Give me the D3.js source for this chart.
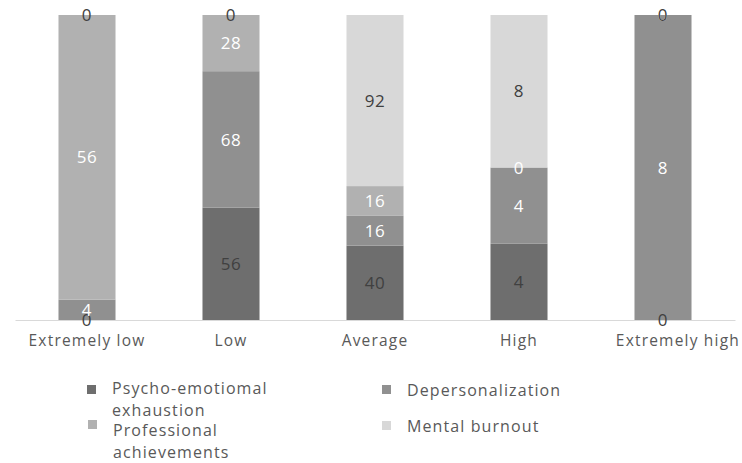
<!DOCTYPE html>
<html>
<head>
<meta charset="utf-8">
<script src="https://cdn.jsdelivr.net/npm/d3@7"></script>
<style>
  html, body { margin: 0; padding: 0; background: #ffffff; }
  svg { display: block; font-family: "Open Sans", "Noto Sans", sans-serif; }
</style>
</head>
<body>
<svg id="chart" width="742" height="463"></svg>
<script>
// ---- data ----
const categories = ["Extremely low", "Low", "Average", "High", "Extremely high"];
const seriesNames = ["Psycho-emotiomal exhaustion", "Depersonalization", "Professional achievements", "Mental burnout"];
const psychoEmotional = [0, 56, 40, 4, 0];
const depersonalization = [4, 68, 16, 4, 8];
const professional = [56, 28, 16, 0, 0];
const mentalBurnout = [0, 0, 92, 8, 0];

const seriesValues = [psychoEmotional, depersonalization, professional, mentalBurnout];
const colors = ["#6e6e6e", "#909090", "#b1b1b1", "#d8d8d8"];
const labelColors = ["#404040", "#ffffff", "#ffffff", "#404040"];

const rows = categories.map((c, i) => {
  const r = { category: c };
  seriesNames.forEach((s, j) => { r[s] = seriesValues[j][i]; });
  return r;
});

const W = 742;
const svg = d3.select("#chart");
const plot = { left: 15, right: 735, top: 15, bottom: 320 };

const x = d3.scaleBand()
  .domain(categories)
  .range([plot.left, plot.right])
  .paddingInner(0.604)
  .paddingOuter(0.302);

const y = d3.scaleLinear().domain([0, 1]).range([plot.bottom, plot.top]);

const stacked = d3.stack().keys(seriesNames).offset(d3.stackOffsetExpand)(rows);

// bars
const layers = svg.append("g").selectAll("g")
  .data(stacked).join("g")
  .attr("fill", (d, i) => colors[i]);

layers.selectAll("rect")
  .data(d => d)
  .join("rect")
  .attr("x", d => x(d.data.category))
  .attr("width", x.bandwidth())
  .attr("y", d => y(d[1]))
  .attr("height", d => y(d[0]) - y(d[1]));

// axis
const axis = svg.append("g")
  .attr("transform", `translate(0,${plot.bottom})`)
  .call(d3.axisBottom(x).tickSize(0).tickPadding(15));
axis.select(".domain").attr("stroke", "#d9d9d9").attr("stroke-width", 1);
axis.selectAll("text")
  .attr("fill", "#595959")
  .style("font-size", "15.5px")
  .style("letter-spacing", "1.2px")
  .style("font-family", "'Open Sans', sans-serif");
// the last label sits flush with the right edge, as in the original chart
axis.selectAll(".tick").each(function(d) {
  const t = d3.select(this).select("text");
  const len = t.node().getComputedTextLength();
  const cx = x(d) + x.bandwidth() / 2;
  const right = cx + len / 2;
  if (right > W - 25) t.attr("x", (W - 2) - right);
});

// data labels
const labels = svg.append("g");
stacked.forEach((layer, i) => {
  labels.selectAll(null)
    .data(layer)
    .join("text")
    .attr("x", d => x(d.data.category) + x.bandwidth() / 2)
    .attr("y", d => (y(d[0]) + y(d[1])) / 2)
    .attr("dy", "0.36em")
    .attr("text-anchor", "middle")
    .attr("fill", labelColors[i])
    .style("font-size", "17px")
    .style("letter-spacing", "0.6px")
    .text(d => d.data[layer.key]);
});

// legend
const legendItems = [
  { idx: 0, sx: 87, sy: 385, lines: ["Psycho-emotiomal", "exhaustion"], ty: [394, 416] },
  { idx: 2, sx: 88, sy: 420, lines: ["Professional", "achievements"], ty: [436, 458] },
  { idx: 1, sx: 382, sy: 385, lines: ["Depersonalization"], ty: [396] },
  { idx: 3, sx: 382, sy: 421, lines: ["Mental burnout"], ty: [432] }
];
const legend = svg.append("g");
legendItems.forEach(it => {
  legend.append("rect")
    .attr("x", it.sx).attr("y", it.sy)
    .attr("width", 9).attr("height", 9)
    .attr("fill", colors[it.idx]);
  it.lines.forEach((ln, k) => {
    legend.append("text")
      .attr("x", it.sx + 25)
      .attr("y", it.ty[k])
      .attr("fill", "#595959")
      .style("font-size", "16px")
      .style("letter-spacing", "1.1px")
      .text(ln);
  });
});
</script>
</body>
</html>
